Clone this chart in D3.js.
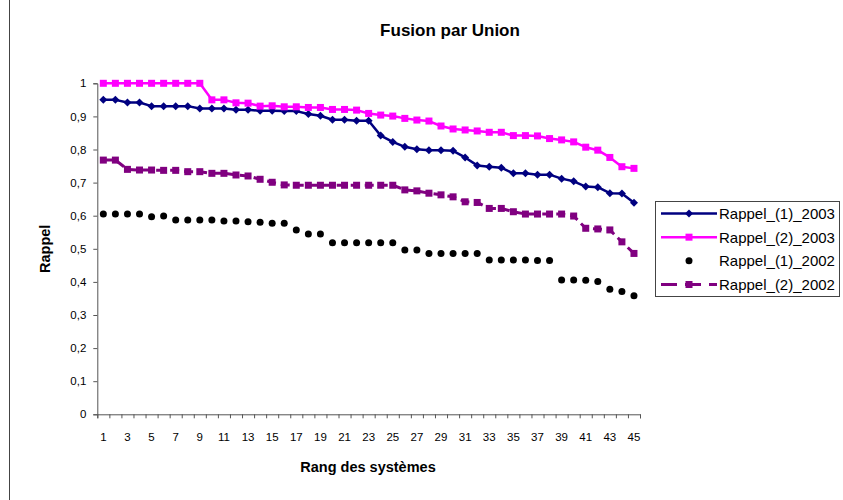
<!DOCTYPE html>
<html>
<head>
<meta charset="utf-8">
<script src="https://cdn.jsdelivr.net/npm/d3@7"></script>
<style>
body{margin:0;background:#fff;}
svg{display:block;font-family:"Liberation Sans",Arial,sans-serif;}
</style>
</head>
<body>
<div id="container"></div>
<script>
// chart data
var categories = [1,2,3,4,5,6,7,8,9,10,11,12,13,14,15,16,17,18,19,20,21,22,23,24,25,26,27,28,29,30,31,32,33,34,35,36,37,38,39,40,41,42,43,44,45];
var rappel1_2003 = [0.95,0.95,0.942,0.942,0.931,0.931,0.931,0.931,0.924,0.924,
    0.924,0.92,0.92,0.917,0.917,0.916,0.916,0.907,0.902,0.89,
    0.89,0.887,0.887,0.842,0.823,0.808,0.801,0.798,0.798,0.796,
    0.776,0.752,0.748,0.745,0.728,0.728,0.724,0.724,0.712,0.704,
    0.688,0.686,0.668,0.667,0.639];
var rappel2_2003 = [1,1,1,1,1,1,1,1,1,0.95,
    0.95,0.941,0.94,0.931,0.932,0.929,0.929,0.927,0.927,0.921,
    0.921,0.919,0.909,0.904,0.901,0.894,0.889,0.886,0.871,0.862,
    0.859,0.856,0.852,0.852,0.842,0.842,0.841,0.833,0.829,0.823,
    0.807,0.798,0.776,0.748,0.743];
var rappel1_2002 = [0.605,0.605,0.605,0.605,0.597,0.599,0.587,0.587,0.587,0.587,
    0.584,0.584,0.582,0.58,0.577,0.577,0.557,0.545,0.545,0.518,
    0.518,0.518,0.518,0.518,0.518,0.496,0.496,0.486,0.486,0.486,
    0.486,0.486,0.466,0.466,0.466,0.466,0.465,0.465,0.406,0.406,
    0.405,0.401,0.378,0.371,0.358];
var rappel2_2002 = [0.768,0.768,0.74,0.738,0.738,0.737,0.737,0.733,0.733,0.728,
    0.728,0.723,0.72,0.71,0.701,0.693,0.692,0.692,0.692,0.692,
    0.692,0.692,0.692,0.692,0.692,0.678,0.675,0.668,0.663,0.657,
    0.642,0.64,0.622,0.622,0.612,0.605,0.605,0.605,0.605,0.599,
    0.562,0.56,0.557,0.521,0.486];
var seriesNames = ['Rappel_(1)_2003','Rappel_(2)_2003','Rappel_(1)_2002','Rappel_(2)_2002'];
var yTicks = [0,0.1,0.2,0.3,0.4,0.5,0.6,0.7,0.8,0.9,1];
var xLabels = [1,3,5,7,9,11,13,15,17,19,21,23,25,27,29,31,33,35,37,39,41,43,45];

var series = [
    {name: seriesNames[0], values: rappel1_2003, color: '#000080', line: true, width: 2.5, dash: null, marker: 'diamond'},
    {name: seriesNames[1], values: rappel2_2003, color: '#ff00ff', line: true, width: 2.5, dash: null, marker: 'square'},
    {name: seriesNames[2], values: rappel1_2002, color: '#000000', line: false, width: 0, dash: null, marker: 'circle'},
    {name: seriesNames[3], values: rappel2_2002, color: '#800080', line: true, width: 3, dash: '9,5', marker: 'square'}
];

function drawChart(id, width, height){
    var left = 97.3, right = 640, top = 83.3, bottom = 414.3;

    var svg = d3.select('#'+id)
        .append('svg')
        .attr('width', width)
        .attr('height', height);

    // left frame border
    svg.append('line')
        .attr('x1', 9.5).attr('x2', 9.5)
        .attr('y1', 0).attr('y2', height)
        .attr('stroke', '#444').attr('stroke-width', 1);

    var x = d3.scaleBand().domain(categories).range([left, right]).padding(0);
    var xEdge = d3.scaleLinear().domain([0, categories.length]).range([left, right]);
    var y = d3.scaleLinear().domain([0, 1]).range([bottom, top]);

    var fmt = function(d){ return d3.format('.1~f')(d).replace('.', ','); };

    // y axis
    var yAxis = svg.append('g')
        .attr('transform', 'translate('+left+',0)')
        .call(d3.axisLeft(y).tickValues(yTicks).tickSize(4).tickPadding(7).tickFormat(fmt));
    yAxis.selectAll('text').attr('font-size', 11.5).attr('fill', '#000').attr('font-family', '"Liberation Sans",Arial,sans-serif');

    // x axis: ticks on band edges, labels in band centres
    svg.append('g')
        .attr('transform', 'translate(0,'+bottom+')')
        .call(d3.axisBottom(xEdge).tickValues(d3.range(0, categories.length+1)).tickSize(4).tickFormat(''));
    var xLab = svg.append('g')
        .attr('transform', 'translate(0,'+bottom+')')
        .call(d3.axisBottom(x).tickValues(xLabels).tickSize(0).tickPadding(18.5));
    xLab.select('.domain').remove();
    xLab.selectAll('text').attr('font-size', 11.5).attr('fill', '#000').attr('font-family', '"Liberation Sans",Arial,sans-serif');

    svg.selectAll('.domain, .tick line').attr('stroke', '#555');

    var cx = function(d, i){ return x(categories[i]) + x.bandwidth()/2; };

    series.forEach(function(s){
        if(s.line){
            var line = d3.line()
                .x(function(d, i){ return cx(d, i); })
                .y(function(d){ return y(d); });
            svg.append('path')
                .datum(s.values)
                .attr('d', line)
                .attr('fill', 'none')
                .attr('stroke', s.color)
                .attr('stroke-width', s.width)
                .attr('stroke-dasharray', s.dash)
                .attr('stroke-linejoin', 'round');
        }
        drawMarkers(svg, s.values.map(function(v, i){ return [cx(v, i), y(v)]; }), s);
    });

    // titles
    svg.append('text')
        .attr('x', 450).attr('y', 36)
        .attr('text-anchor', 'middle')
        .attr('font-size', 17).attr('font-weight', 'bold')
        .text('Fusion par Union');
    svg.append('text')
        .attr('x', 368).attr('y', 472)
        .attr('text-anchor', 'middle')
        .attr('font-size', 14.5).attr('font-weight', 'bold')
        .text('Rang des systèmes');
    svg.append('text')
        .attr('transform', 'translate(50,'+((top+bottom)/2)+') rotate(-90)')
        .attr('text-anchor', 'middle')
        .attr('font-size', 14.5).attr('font-weight', 'bold')
        .text('Rappel');

    // legend
    var lg = svg.append('g');
    lg.append('rect')
        .attr('x', 655.5).attr('y', 201.5)
        .attr('width', 184).attr('height', 95)
        .attr('fill', '#fff').attr('stroke', '#444').attr('stroke-width', 1);
    var rowY = d3.scalePoint().domain(seriesNames).range([213.5, 284.5]);
    series.forEach(function(s){
        var ry = rowY(s.name);
        if(s.line){
            lg.append('line')
                .attr('x1', 661).attr('x2', 717)
                .attr('y1', ry).attr('y2', ry)
                .attr('stroke', s.color)
                .attr('stroke-width', s.width)
                .attr('stroke-dasharray', s.dash ? '16,8' : null);
        }
        drawMarkers(lg, [[689, ry]], s);
        lg.append('text')
            .attr('x', 719).attr('y', ry)
            .attr('dy', '0.36em')
            .attr('font-size', 15)
            .text(s.name);
    });
}

function drawMarkers(g, pts, s){
    if(s.marker == 'circle'){
        g.selectAll(null).data(pts).enter().append('circle')
            .attr('cx', function(d){ return d[0]; })
            .attr('cy', function(d){ return d[1]; })
            .attr('r', 3.5)
            .attr('fill', s.color);
    }else if(s.marker == 'square'){
        g.selectAll(null).data(pts).enter().append('rect')
            .attr('x', function(d){ return d[0]-3.5; })
            .attr('y', function(d){ return d[1]-3.5; })
            .attr('width', 7).attr('height', 7)
            .attr('fill', s.color);
    }else{
        g.selectAll(null).data(pts).enter().append('path')
            .attr('d', function(d){ return 'M'+d[0]+','+(d[1]-4)+'L'+(d[0]+4)+','+d[1]+'L'+d[0]+','+(d[1]+4)+'L'+(d[0]-4)+','+d[1]+'Z'; })
            .attr('fill', s.color);
    }
}

drawChart('container', 843, 500);
</script>
</body>
</html>
